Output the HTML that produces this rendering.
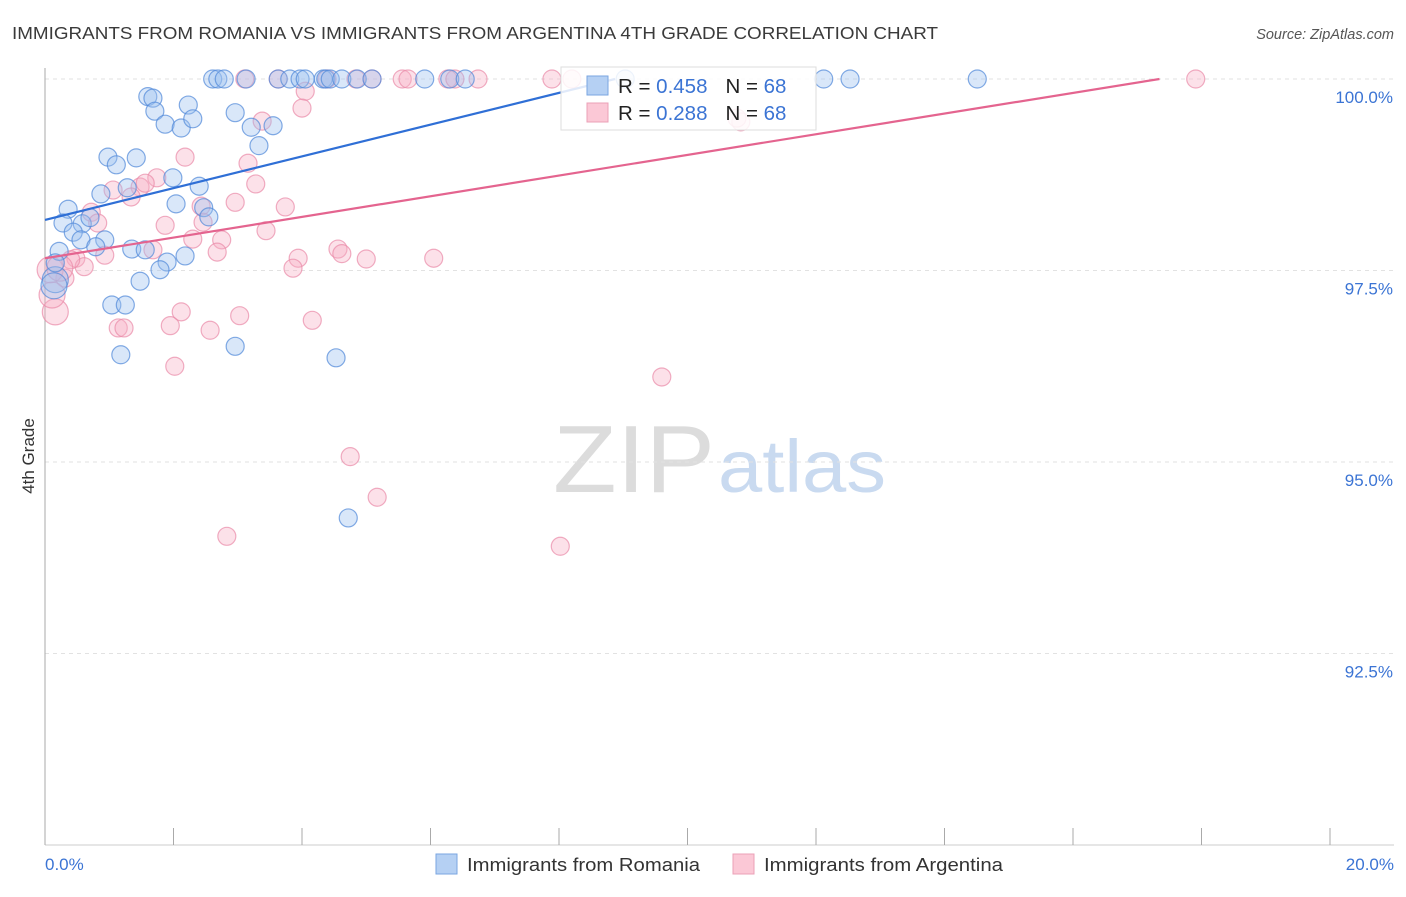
<!DOCTYPE html>
<html><head><meta charset="utf-8"><style>
body{margin:0;background:#fff;font-family:"Liberation Sans",sans-serif;}
svg text{font-family:"Liberation Sans",sans-serif;}
</style></head><body>
<svg id="chart" width="1406" height="892" xmlns="http://www.w3.org/2000/svg">
<text x="12" y="39" font-size="17.5" fill="#3a3a3a" textLength="926" lengthAdjust="spacingAndGlyphs">IMMIGRANTS FROM ROMANIA VS IMMIGRANTS FROM ARGENTINA 4TH GRADE CORRELATION CHART</text>
<text x="1394" y="39" font-size="14.5" fill="#555" font-style="italic" text-anchor="end">Source: ZipAtlas.com</text>
<g>
<text x="553" y="492" font-size="96" fill="#dcdcdc" font-family="Liberation Serif, serif" textLength="162" lengthAdjust="spacingAndGlyphs">ZIP</text>
<text x="718" y="492" font-size="74" fill="#c9daf0" textLength="168" lengthAdjust="spacingAndGlyphs">atlas</text>
</g>
<g id="grid"></g>
<g id="axes"></g>
<g id="points"></g>
<g id="lines"></g>
<g>
<rect x="561" y="67" width="255" height="63" fill="#fff" fill-opacity="0.85" stroke="#ddd"/>
<rect x="587" y="76" width="21" height="19" fill="#b5d0f3" stroke="#7aa6e0"/>
<rect x="587" y="103" width="21" height="19" fill="#fbc8d6" stroke="#eba0b7"/>
<text x="618" y="93" font-size="20.5" fill="#222">R = <tspan fill="#3b74d4">0.458</tspan><tspan dx="18">N = </tspan><tspan fill="#3b74d4">68</tspan></text>
<text x="618" y="120" font-size="20.5" fill="#222">R = <tspan fill="#3b74d4">0.288</tspan><tspan dx="18">N = </tspan><tspan fill="#3b74d4">68</tspan></text>
</g>
<text transform="translate(34,456) rotate(-90)" font-size="17" fill="#333" text-anchor="middle">4th Grade</text>
<g>
<rect x="436" y="854" width="21" height="20" fill="#b5d0f3" stroke="#7aa6e0"/>
<text x="467" y="871" font-size="18" fill="#333" textLength="233" lengthAdjust="spacingAndGlyphs">Immigrants from Romania</text>
<rect x="733" y="854" width="21" height="20" fill="#fbc8d6" stroke="#eba0b7"/>
<text x="764" y="871" font-size="18" fill="#333" textLength="239" lengthAdjust="spacingAndGlyphs">Immigrants from Argentina</text>
</g>
</svg>
<script>
const xTicks=[0,2,4,6,8,10,12,14,16,18,20];
const yTicks=[100,97.5,95,92.5];
const yTickLabels=["100.0%","97.5%","95.0%","92.5%"];
const romaniaX=[2.61,2.69,2.79,3.13,3.63,3.81,3.97,4.05,4.33,4.37,4.44,4.62,4.86,5.09,5.91,6.30,6.54,9.03,12.12,12.53,14.51,1.60,1.68,1.71,1.87,2.12,2.23,2.30,2.96,3.21,3.55,3.33,0.98,1.11,1.42,1.99,2.40,1.28,0.87,2.04,2.47,2.55,0.36,0.28,0.58,0.44,0.70,0.56,0.93,0.79,0.22,1.35,1.56,2.18,1.90,1.79,1.48,0.16,0.14,1.04,1.25,1.18,2.96,4.53,4.72,0.16];
const romaniaY=[100,100,100,100,100,100,100,100,100,100,100,100,100,100,100,100,100,100,100,100,100,99.77,99.75,99.58,99.41,99.36,99.66,99.48,99.56,99.37,99.39,99.13,98.98,98.88,98.97,98.71,98.60,98.58,98.50,98.37,98.32,98.20,98.30,98.12,98.11,98.00,98.19,97.90,97.90,97.81,97.75,97.78,97.77,97.69,97.61,97.51,97.36,97.38,97.30,97.05,97.05,96.40,96.51,96.36,94.27,97.60];
const argentinaX=[3.11,3.63,4.39,4.84,5.09,5.56,5.65,6.27,6.38,6.74,7.89,8.20,17.91,4.05,4.00,3.38,10.83,10.77,2.18,3.16,1.74,3.28,1.06,1.48,1.56,1.34,2.96,3.74,1.87,0.72,0.82,2.43,2.46,2.75,2.30,1.68,3.44,4.56,4.62,5.00,6.05,3.94,3.86,2.68,0.93,0.48,0.31,0.61,0.40,2.12,1.95,2.57,3.03,4.16,1.14,1.23,2.02,9.60,4.75,5.17,2.83,8.02,0.16,0.11,0.08,0.23];
const argentinaY=[100,100,100,100,100,100,100,100,100,100,100,100,100,99.84,99.62,99.45,99.44,99.49,98.98,98.90,98.71,98.63,98.55,98.59,98.64,98.46,98.39,98.33,98.09,98.26,98.12,98.34,98.13,97.90,97.91,97.77,98.02,97.78,97.72,97.65,97.66,97.66,97.53,97.74,97.70,97.66,97.40,97.55,97.64,96.96,96.78,96.72,96.91,96.85,96.75,96.75,96.25,96.11,95.07,94.54,94.03,93.90,96.96,97.18,97.51,97.53];
const romaniaTrend=[98.16,0.2074];
const argentinaTrend=[97.66,0.1349];
const NS="http://www.w3.org/2000/svg";
const X0=45,X1=1330,Y100=79,PX_PER=191.5/2.5;
function sx(v){return X0+(v/20)*(X1-X0);}
function sy(v){return Y100+(100-v)*PX_PER;}
function mk(t,a,p){const e=document.createElementNS(NS,t);for(const k in a)e.setAttribute(k,a[k]);p.appendChild(e);return e;}
const grid=document.getElementById('grid'),axes=document.getElementById('axes');
yTicks.forEach((v,i)=>{
 const l=mk('line',{x1:X0,x2:1394,y1:sy(v),y2:sy(v),stroke:'#e2e2e2','stroke-dasharray':'4,4'},grid);
 
 
 const t=mk('text',{x:1393,y:sy(v)+24,'font-size':17,fill:'#3b74d4','text-anchor':'end'},axes);
 t.textContent=yTickLabels[i];
 
 
});
const ya=mk('line',{x1:X0,x2:X0,y1:68,y2:845,stroke:'#aaa'},axes);


const xa=mk('line',{x1:X0,x2:1394,y1:845,y2:845,stroke:'#ccc'},axes);


xTicks.forEach(v=>{
 const t=mk('line',{x1:sx(v),x2:sx(v),y1:828,y2:845,stroke:'#aaa'},axes);
 
 
});
const xl0=mk('text',{x:45,y:870,'font-size':17,fill:'#3b74d4'},axes);xl0.textContent='0.0%';


const xl1=mk('text',{x:1394,y:870,'font-size':17,fill:'#3b74d4','text-anchor':'end'},axes);xl1.textContent='20.0%';


const pts=document.getElementById('points');
function draw(xs,ys,fill,stroke,name){
 xs.forEach((x,i)=>{
  const r=(x<0.3&&ys[i]<97.6)?13:9;
  const c=mk('circle',{cx:sx(x),cy:sy(ys[i]),r:r,fill:fill,'fill-opacity':0.38,stroke:stroke,'stroke-opacity':0.7,'stroke-width':1.2},pts);
  
  
 });
}
draw(argentinaX,argentinaY,'#f7afc4','#e98aa8','argentina-point');
draw(romaniaX,romaniaY,'#9cc0ee','#4f88d8','romania-point');
const lines=document.getElementById('lines');
function trend(tr,color,name){
 const xe=(100-tr[0])/tr[1];
 const l=mk('line',{x1:sx(0),y1:sy(tr[0]),x2:sx(xe),y2:sy(100),stroke:color,'stroke-width':2.2},lines);
 
 
}
trend(romaniaTrend,'#2f6fd6','romania-trend-line');
trend(argentinaTrend,'#e4648f','argentina-trend-line');
</script>
</body></html>
